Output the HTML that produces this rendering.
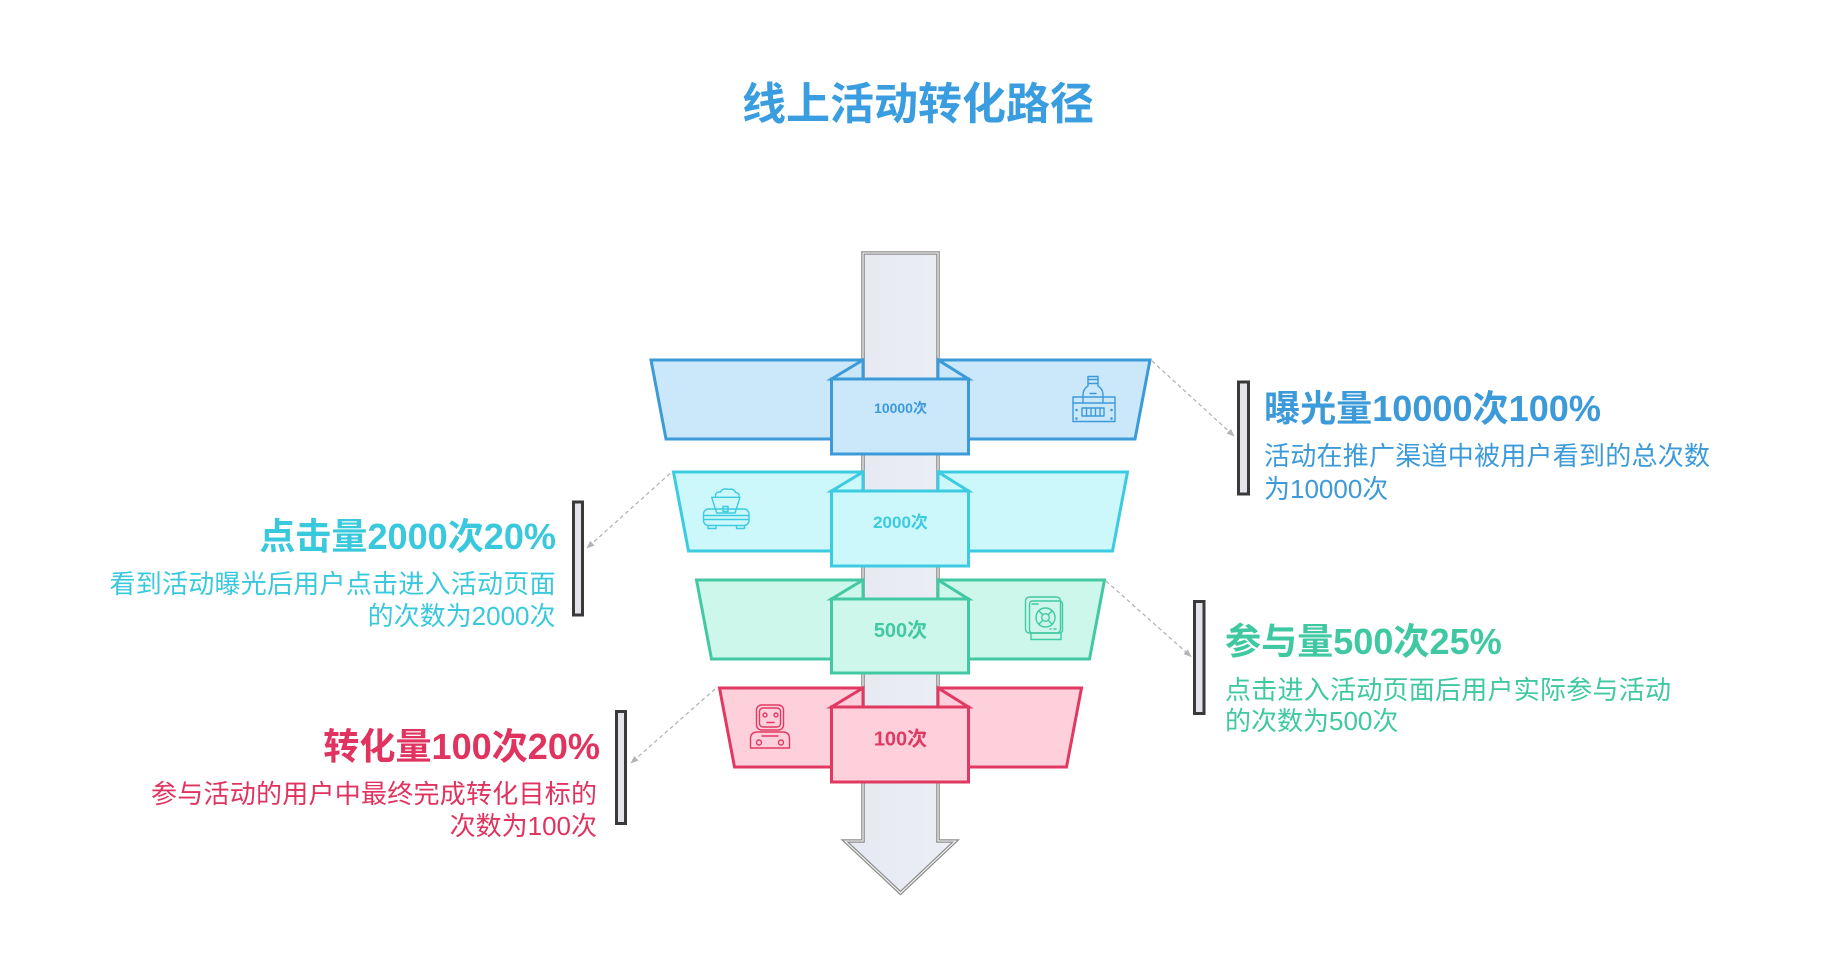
<!DOCTYPE html>
<html>
<head>
<meta charset="utf-8">
<style>
  html,body{margin:0;padding:0;background:#ffffff;}
  #wrap{position:relative;width:1821px;height:978px;overflow:hidden;background:#fff;
        font-family:"Liberation Sans","Noto Sans CJK SC",sans-serif;}
  svg{position:absolute;left:0;top:0;}
  .t{position:absolute;white-space:nowrap;}
  .title{left:618px;width:600px;top:79.5px;line-height:50px;font-size:44px;font-weight:bold;color:#3a9de0;text-align:center;}
  .h{font-size:36.1px;line-height:40px;font-weight:bold;}
  .d{font-size:26px;line-height:30px;width:446px;}
  .j{text-align:justify;text-align-last:justify;}
  .r{text-align:right;}
  .l{text-align:left;}
  .blue{color:#3c9ad9;} .cyan{color:#3ac8dc;} .green{color:#3fc8a2;} .red{color:#e0335f;}
</style>
</head>
<body>
<div id="wrap">
<svg width="1821" height="978" viewBox="0 0 1821 978" xmlns="http://www.w3.org/2000/svg">
  <defs>
    <marker id="ah" viewBox="0 0 10 10" refX="9" refY="5" markerWidth="8" markerHeight="8" orient="auto" markerUnits="userSpaceOnUse">
      <path d="M0,1 L10,5 L0,9 Z" fill="#b4b4b4"/>
    </marker>
    <linearGradient id="sg" x1="0" y1="0" x2="1" y2="0">
      <stop offset="0" stop-color="#e6e9f2"/>
      <stop offset="1" stop-color="#eceef5"/>
    </linearGradient>
  </defs>

  <!-- band trapezoids -->
  <polygon points="651,360 1150,360 1135,439 666,439" fill="#cbe8fa" stroke="#3d9ad8" stroke-width="3" stroke-linejoin="miter"/>
  <polygon points="673.5,472 1127.5,472 1112.5,551 688.5,551" fill="#ccf7fb" stroke="#3ccbe0" stroke-width="3"/>
  <polygon points="696.5,580 1104.5,580 1089.5,659 711.5,659" fill="#cdf7ea" stroke="#42c9a3" stroke-width="3"/>
  <polygon points="719.5,688 1081.5,688 1066.5,767 734.5,767" fill="#fdd0db" stroke="#e03a62" stroke-width="3"/>

  <!-- central arrow -->
  <polygon points="863,253 938,253 938,841 955.5,841 900.5,893 845,841 863,841" fill="url(#sg)" stroke="#8e8e8e" stroke-width="3.6" stroke-linejoin="miter"/>
  <polygon points="863,253 938,253 938,841 955.5,841 900.5,893 845,841 863,841" fill="none" stroke="#f6f6f6" stroke-width="1.1" stroke-linejoin="miter"/>

  <!-- wedges + boxes : blue -->
  <polygon points="863,360 863,379 831.5,379" fill="#cbe8fa" stroke="#3d9ad8" stroke-width="3"/>
  <polygon points="938,360 938,379 968.5,379" fill="#cbe8fa" stroke="#3d9ad8" stroke-width="3"/>
  <rect x="831.5" y="379" width="137" height="75" fill="#cbe8fa" stroke="#3d9ad8" stroke-width="3"/>
  <text x="900.5" y="413" text-anchor="middle" font-family="Liberation Sans, Noto Sans CJK SC, sans-serif" font-size="14" font-weight="bold" fill="#3d9ad8">10000次</text>

  <!-- cyan -->
  <polygon points="863,472 863,491 831.5,491" fill="#ccf7fb" stroke="#3ccbe0" stroke-width="3"/>
  <polygon points="938,472 938,491 968.5,491" fill="#ccf7fb" stroke="#3ccbe0" stroke-width="3"/>
  <rect x="831.5" y="491" width="137" height="75" fill="#ccf7fb" stroke="#3ccbe0" stroke-width="3"/>
  <text x="900.5" y="528" text-anchor="middle" font-family="Liberation Sans, Noto Sans CJK SC, sans-serif" font-size="17" font-weight="bold" fill="#3ccbe0">2000次</text>

  <!-- green -->
  <polygon points="863,580 863,599 831.5,599" fill="#cdf7ea" stroke="#42c9a3" stroke-width="3"/>
  <polygon points="938,580 938,599 968.5,599" fill="#cdf7ea" stroke="#42c9a3" stroke-width="3"/>
  <rect x="831.5" y="599" width="137" height="74" fill="#cdf7ea" stroke="#42c9a3" stroke-width="3"/>
  <text x="900.5" y="637" text-anchor="middle" font-family="Liberation Sans, Noto Sans CJK SC, sans-serif" font-size="20" font-weight="bold" fill="#42c9a3">500次</text>

  <!-- red -->
  <polygon points="863,688 863,707 831.5,707" fill="#fdd0db" stroke="#e03a62" stroke-width="3"/>
  <polygon points="938,688 938,707 968.5,707" fill="#fdd0db" stroke="#e03a62" stroke-width="3"/>
  <rect x="831.5" y="707" width="137" height="75" fill="#fdd0db" stroke="#e03a62" stroke-width="3"/>
  <text x="900.5" y="745.5" text-anchor="middle" font-family="Liberation Sans, Noto Sans CJK SC, sans-serif" font-size="20" font-weight="bold" fill="#e03a62">100次</text>

  <!-- icon: blue bottle crate -->
  <g fill="none" stroke="#3d9ad8" stroke-width="1.4" stroke-linejoin="round" stroke-linecap="round">
    <rect x="1088" y="376.5" width="10" height="7"/>
    <line x1="1088" y1="379.5" x2="1098" y2="379.5"/>
    <path d="M1088,383.5 L1088,386 Q1083,389 1083,395 L1083,397 M1098,383.5 L1098,386 Q1103,389 1103,395 L1103,397"/>
    <line x1="1090" y1="393.5" x2="1096" y2="393.5"/>
    <rect x="1073" y="397" width="42" height="24.5"/>
    <line x1="1073" y1="403" x2="1115" y2="403"/>
    <line x1="1083" y1="397" x2="1083" y2="403"/>
    <line x1="1103" y1="397" x2="1103" y2="403"/>
    <rect x="1082" y="408" width="22" height="8"/>
    <line x1="1086.5" y1="408" x2="1086.5" y2="416"/>
    <line x1="1091" y1="408" x2="1091" y2="416"/>
    <line x1="1095.5" y1="408" x2="1095.5" y2="416"/>
    <line x1="1100" y1="408" x2="1100" y2="416"/>
    <circle cx="1076.5" cy="410" r="0.6"/><circle cx="1111.5" cy="410" r="0.6"/>
    <circle cx="1076.5" cy="418.5" r="0.6"/><circle cx="1111.5" cy="418.5" r="0.6"/>
  </g>

  <!-- icon: cyan mine cart -->
  <g fill="none" stroke="#3ccbe0" stroke-width="1.4" stroke-linejoin="round" stroke-linecap="round">
    <path d="M715.5,497 Q715,491.5 720.5,492 Q723,487.5 728.5,489.5 Q733.5,488 735.5,492.5 Q740,493 739,497"/>
    <path d="M711.7,497.3 L740,497.3 L735,513 L716.7,513 Z"/>
    <rect x="723" y="506.5" width="5" height="5"/>
    <rect x="703.5" y="509" width="45.5" height="16.5" rx="5"/>
    <line x1="704" y1="515.5" x2="748.5" y2="515.5"/>
    <line x1="704" y1="519.5" x2="748.5" y2="519.5"/>
    <path d="M708,525.5 L708,528.5 L716,528.5 L716,525.5 M736.5,525.5 L736.5,528.5 L744.5,528.5 L744.5,525.5"/>
  </g>

  <!-- icon: green safe -->
  <g fill="none" stroke="#42c9a3" stroke-width="1.4" stroke-linejoin="round" stroke-linecap="round">
    <rect x="1025.5" y="597" width="35" height="36" rx="4"/>
    <rect x="1029.5" y="601" width="33" height="32" rx="3"/>
    <line x1="1032" y1="604" x2="1038" y2="604"/>
    <circle cx="1045.5" cy="617.5" r="9.5"/>
    <circle cx="1045.5" cy="617.5" r="3.8"/>
    <line x1="1038.8" y1="610.8" x2="1042.8" y2="614.8"/>
    <line x1="1052.2" y1="610.8" x2="1048.2" y2="614.8"/>
    <line x1="1038.8" y1="624.2" x2="1042.8" y2="620.2"/>
    <line x1="1052.2" y1="624.2" x2="1048.2" y2="620.2"/>
    <line x1="1050" y1="629" x2="1051" y2="629"/>
    <line x1="1054" y1="629" x2="1056" y2="629"/>
    <path d="M1031,633 L1031,639.5 L1061,639.5 L1061,633"/>
  </g>

  <!-- icon: red robot -->
  <g fill="none" stroke="#e03a62" stroke-width="1.4" stroke-linejoin="round" stroke-linecap="round">
    <rect x="756.5" y="705" width="27" height="25" rx="5"/>
    <rect x="759.5" y="708" width="21" height="19" rx="3.5"/>
    <circle cx="765" cy="715" r="2"/>
    <circle cx="776" cy="715" r="2"/>
    <line x1="767" y1="722.5" x2="774" y2="722.5"/>
    <path d="M750.5,748 L750.5,739 Q750.5,732 757.5,732 L783,732 Q789.5,732 789.5,739 L789.5,748 Z"/>
    <line x1="762" y1="736" x2="778" y2="736"/>
    <circle cx="759" cy="742.5" r="2.5"/>
    <circle cx="781" cy="742.5" r="2.5"/>
  </g>

  <!-- side bars -->
  <rect x="1238.5" y="382" width="10" height="112" fill="#e4e4ea" stroke="#3a3a3a" stroke-width="3"/>
  <rect x="573.5" y="502" width="9" height="113" fill="#e4e4ea" stroke="#3a3a3a" stroke-width="3"/>
  <rect x="1194.5" y="601.5" width="9.5" height="112" fill="#e4e4ea" stroke="#3a3a3a" stroke-width="3"/>
  <rect x="616.5" y="711.5" width="9" height="112" fill="#e4e4ea" stroke="#3a3a3a" stroke-width="3"/>

  <!-- dashed connectors -->
  <g stroke="#b0b0b0" stroke-width="1.2" stroke-dasharray="4 3" fill="none">
    <line x1="1152" y1="361" x2="1234" y2="436" marker-end="url(#ah)"/>
    <line x1="670" y1="473.5" x2="587" y2="548" marker-end="url(#ah)"/>
    <line x1="1106" y1="581" x2="1191" y2="656.5" marker-end="url(#ah)"/>
    <line x1="715" y1="689" x2="631" y2="763" marker-end="url(#ah)"/>
  </g>
</svg>

<div class="t title">线上活动转化路径</div>

<!-- blue -->
<div class="t h blue" style="left:1264px;top:388.5px;">曝光量10000次100%</div>
<div class="t d blue j" style="left:1264px;top:441px;">活动在推广渠道中被用户看到的总次数</div>
<div class="t d blue l" style="left:1264px;top:473.5px;">为10000次</div>

<!-- cyan -->
<div class="t h cyan r" style="left:156px;width:400px;top:516.5px;">点击量2000次20%</div>
<div class="t d cyan j" style="left:109.5px;top:569px;">看到活动曝光后用户点击进入活动页面</div>
<div class="t d cyan r" style="left:109.5px;top:600.5px;">的次数为2000次</div>

<!-- green -->
<div class="t h green" style="left:1225px;top:622px;">参与量500次25%</div>
<div class="t d green j" style="left:1225px;top:675px;">点击进入活动页面后用户实际参与活动</div>
<div class="t d green l" style="left:1225px;top:706px;">的次数为500次</div>

<!-- red -->
<div class="t h red r" style="left:200px;width:400px;top:726.5px;">转化量100次20%</div>
<div class="t d red j" style="left:151px;top:779px;">参与活动的用户中最终完成转化目标的</div>
<div class="t d red r" style="left:151px;top:810.5px;">次数为100次</div>
</div>
</body>
</html>
